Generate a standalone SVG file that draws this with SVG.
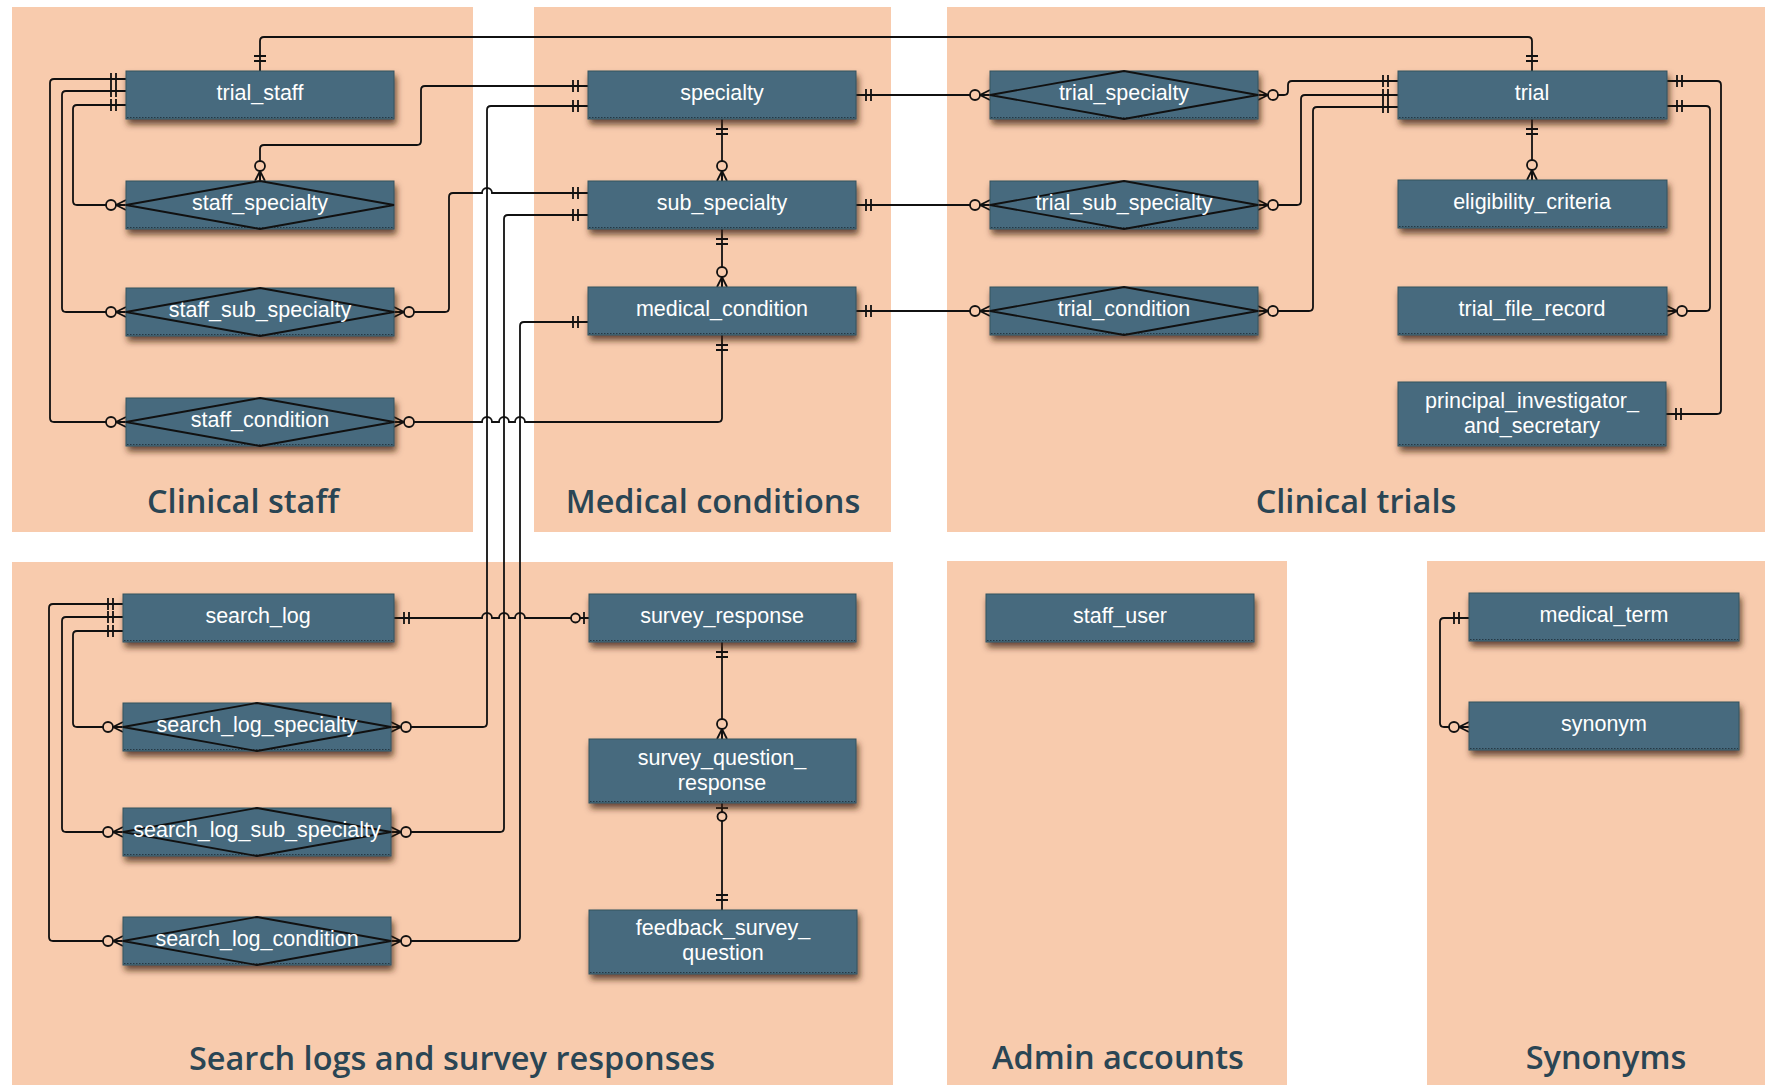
<svg xmlns="http://www.w3.org/2000/svg" xmlns:xlink="http://www.w3.org/1999/xlink" width="1765" height="1085" viewBox="0 0 1765 1085">
  <style>
    .panel { fill: #f8cbad; }
    .title { font-family: "Open Sans", "Liberation Sans", sans-serif; font-size: 32.5px; font-weight: 600; fill: #2a4554; text-anchor: middle; }
    .box { fill: #476a7e; stroke: #33525f; stroke-width: 1; filter: url(#shadow); }
    .hatch { stroke: #263844; stroke-width: 1; stroke-dasharray: 1.5 1.5; }
    .diamond { fill: none; stroke: #111; stroke-width: 1.8; stroke-linejoin: miter; }
    .label { font-family: "Liberation Sans", Arial, sans-serif; font-size: 21.5px; fill: #ffffff; text-anchor: middle; }
    .link { fill: none; stroke: #111; stroke-width: 1.8; }
    .mk { fill: none; stroke: #111; stroke-width: 1.8; }
    .mk circle { fill: #f8cbad; }
  </style>
  <defs>
    <filter id="shadow" x="-10%" y="-30%" width="120%" height="180%">
      <feGaussianBlur in="SourceAlpha" stdDeviation="3"/>
      <feOffset dx="2" dy="5" result="b"/>
      <feFlood flood-color="#3a1f0e" flood-opacity="0.75"/>
      <feComposite in2="b" operator="in"/>
      <feMerge><feMergeNode/><feMergeNode in="SourceGraphic"/></feMerge>
    </filter>
    <!-- cardinality ends: entity edge at origin, line runs along +x -->
    <g id="one" class="mk"><path d="M10,-6 V6 M15,-6 V6"/></g>
    <g id="zmany" class="mk"><path d="M0,-5 L10,0 L0,5 M0,0 H10"/><circle cx="15" cy="0" r="5"/></g>
    <g id="zone" class="mk"><path d="M5,-6 V6"/><circle cx="13.5" cy="0" r="4.5"/></g>
  </defs>

  <!-- subject areas -->
  <g id="areas">
    <rect class="panel" x="12" y="7" width="461" height="525"/>
    <rect class="panel" x="534" y="7" width="357" height="525"/>
    <rect class="panel" x="947" y="7" width="818" height="525"/>
    <rect class="panel" x="12" y="562" width="881" height="523"/>
    <rect class="panel" x="947" y="561" width="340" height="524"/>
    <rect class="panel" x="1427" y="561" width="338" height="524"/>
    <text class="title" x="243" y="513">Clinical staff</text>
    <text class="title" x="713" y="513">Medical conditions</text>
    <text class="title" x="1356" y="513">Clinical trials</text>
    <text class="title" x="452" y="1070">Search logs and survey responses</text>
    <text class="title" x="1118" y="1069">Admin accounts</text>
    <text class="title" x="1606" y="1069">Synonyms</text>
  </g>

  <!-- relationships -->
  <g id="connectors">
    <path class="link" d="M260,71 V41 Q260,37 264,37 H1528 Q1532,37 1532,41 V71"/>
    <path class="link" d="M126,79 H54 Q50,79 50,83 V418 Q50,422 54,422 H126"/>
    <path class="link" d="M126,91 H66 Q62,91 62,95 V308 Q62,312 66,312 H126"/>
    <path class="link" d="M126,105 H77 Q73,105 73,109 V201 Q73,205 77,205 H126"/>
    <path class="link" d="M260,181 V149 Q260,145 264,145 H417 Q421,145 421,141 V90 Q421,86 425,86 H588"/>
    <path class="link" d="M588,106 H491 Q487,106 487,110 V723 Q487,727 483,727 H391"/>
    <path class="link" d="M394,312 H445 Q449,312 449,308 V197 Q449,193 453,193 H482 A5,5 0 0 1 492,193 H588"/>
    <path class="link" d="M588,215 H508 Q504,215 504,219 V828 Q504,832 500,832 H391"/>
    <path class="link" d="M588,322 H524 Q520,322 520,326 V937 Q520,941 516,941 H391"/>
    <path class="link" d="M394,422 H482 A5,5 0 0 1 492,422 H499 A5,5 0 0 1 509,422 H515 A5,5 0 0 1 525,422 H718 Q722,422 722,418 V335"/>
    <path class="link" d="M722,119 V181"/>
    <path class="link" d="M722,229 V287"/>
    <path class="link" d="M856,95 H990"/>
    <path class="link" d="M856,205 H990"/>
    <path class="link" d="M856,311 H990"/>
    <path class="link" d="M1258,95 H1284 Q1288,95 1288,91 V85 Q1288,81 1292,81 H1398"/>
    <path class="link" d="M1258,205 H1297 Q1301,205 1301,201 V99 Q1301,95 1305,95 H1398"/>
    <path class="link" d="M1258,311 H1309 Q1313,311 1313,307 V111 Q1313,107 1317,107 H1398"/>
    <path class="link" d="M1532,119 V180"/>
    <path class="link" d="M1667,81 H1717 Q1721,81 1721,85 V410 Q1721,414 1717,414 H1666"/>
    <path class="link" d="M1667,106 H1706 Q1710,106 1710,110 V307 Q1710,311 1706,311 H1667"/>
    <path class="link" d="M123,604 H53 Q49,604 49,608 V937 Q49,941 53,941 H123"/>
    <path class="link" d="M123,617 H66 Q62,617 62,621 V828 Q62,832 66,832 H123"/>
    <path class="link" d="M123,631 H77 Q73,631 73,635 V723 Q73,727 77,727 H123"/>
    <path class="link" d="M394,618 H482 A5,5 0 0 1 492,618 H499 A5,5 0 0 1 509,618 H515 A5,5 0 0 1 525,618 H589"/>
    <path class="link" d="M722,642 V739"/>
    <path class="link" d="M722,803 V910"/>
    <path class="link" d="M1469,618 H1444 Q1440,618 1440,622 V723 Q1440,727 1444,727 H1469"/>

    <!-- cardinality ends -->
    <use href="#one" transform="translate(260,71) rotate(-90)"/>
    <use href="#one" transform="translate(1532,71) rotate(-90)"/>
    <use href="#one" transform="translate(126,79) rotate(180)"/>
    <use href="#one" transform="translate(126,91) rotate(180)"/>
    <use href="#one" transform="translate(126,105) rotate(180)"/>
    <use href="#zmany" transform="translate(126,422) rotate(180)"/>
    <use href="#zmany" transform="translate(126,312) rotate(180)"/>
    <use href="#zmany" transform="translate(126,205) rotate(180)"/>
    <use href="#zmany" transform="translate(260,181) rotate(-90)"/>
    <use href="#one" transform="translate(588,86) rotate(180)"/>
    <use href="#one" transform="translate(588,106) rotate(180)"/>
    <use href="#zmany" transform="translate(391,727)"/>
    <use href="#one" transform="translate(588,193) rotate(180)"/>
    <use href="#zmany" transform="translate(394,312)"/>
    <use href="#one" transform="translate(588,215) rotate(180)"/>
    <use href="#zmany" transform="translate(391,832)"/>
    <use href="#one" transform="translate(588,322) rotate(180)"/>
    <use href="#zmany" transform="translate(391,941)"/>
    <use href="#one" transform="translate(722,335) rotate(90)"/>
    <use href="#zmany" transform="translate(394,422)"/>
    <use href="#one" transform="translate(722,119) rotate(90)"/>
    <use href="#zmany" transform="translate(722,181) rotate(-90)"/>
    <use href="#one" transform="translate(722,229) rotate(90)"/>
    <use href="#zmany" transform="translate(722,287) rotate(-90)"/>
    <use href="#one" transform="translate(856,95)"/>
    <use href="#zmany" transform="translate(990,95) rotate(180)"/>
    <use href="#one" transform="translate(856,205)"/>
    <use href="#zmany" transform="translate(990,205) rotate(180)"/>
    <use href="#one" transform="translate(856,311)"/>
    <use href="#zmany" transform="translate(990,311) rotate(180)"/>
    <use href="#zmany" transform="translate(1258,95)"/>
    <use href="#zmany" transform="translate(1258,205)"/>
    <use href="#zmany" transform="translate(1258,311)"/>
    <use href="#one" transform="translate(1398,81) rotate(180)"/>
    <use href="#one" transform="translate(1398,95) rotate(180)"/>
    <use href="#one" transform="translate(1398,107) rotate(180)"/>
    <use href="#one" transform="translate(1532,119) rotate(90)"/>
    <use href="#zmany" transform="translate(1532,180) rotate(-90)"/>
    <use href="#one" transform="translate(1667,81)"/>
    <use href="#one" transform="translate(1666,414)"/>
    <use href="#one" transform="translate(1667,106)"/>
    <use href="#zmany" transform="translate(1667,311)"/>
    <use href="#one" transform="translate(123,604) rotate(180)"/>
    <use href="#one" transform="translate(123,617) rotate(180)"/>
    <use href="#one" transform="translate(123,631) rotate(180)"/>
    <use href="#zmany" transform="translate(123,941) rotate(180)"/>
    <use href="#zmany" transform="translate(123,832) rotate(180)"/>
    <use href="#zmany" transform="translate(123,727) rotate(180)"/>
    <use href="#one" transform="translate(394,618)"/>
    <use href="#zone" transform="translate(589,618) rotate(180)"/>
    <use href="#one" transform="translate(722,642) rotate(90)"/>
    <use href="#zmany" transform="translate(722,739) rotate(-90)"/>
    <use href="#zone" transform="translate(722,803) rotate(90)"/>
    <use href="#one" transform="translate(722,910) rotate(-90)"/>
    <use href="#one" transform="translate(1469,618) rotate(180)"/>
    <use href="#zmany" transform="translate(1469,727) rotate(180)"/>
  </g>

  <!-- Clinical staff -->
  <g id="trial_staff"><rect class="box" x="126" y="71" width="268" height="48"/><line class="hatch" x1="127" y1="117.5" x2="393" y2="117.5"/><text class="label" x="260" y="100">trial_staff</text></g>
  <g id="staff_specialty"><rect class="box" x="126" y="181" width="268" height="48"/><line class="hatch" x1="127" y1="227.5" x2="393" y2="227.5"/><polygon class="diamond" points="126,205 260,181 394,205 260,229"/><text class="label" x="260" y="210">staff_specialty</text></g>
  <g id="staff_sub_specialty"><rect class="box" x="126" y="288" width="268" height="48"/><line class="hatch" x1="127" y1="334.5" x2="393" y2="334.5"/><polygon class="diamond" points="126,312 260,288 394,312 260,336"/><text class="label" x="260" y="317">staff_sub_specialty</text></g>
  <g id="staff_condition"><rect class="box" x="126" y="398" width="268" height="48"/><line class="hatch" x1="127" y1="444.5" x2="393" y2="444.5"/><polygon class="diamond" points="126,422 260,398 394,422 260,446"/><text class="label" x="260" y="427">staff_condition</text></g>

  <!-- Medical conditions -->
  <g id="specialty"><rect class="box" x="588" y="71" width="268" height="48"/><line class="hatch" x1="589" y1="117.5" x2="855" y2="117.5"/><text class="label" x="722" y="100">specialty</text></g>
  <g id="sub_specialty"><rect class="box" x="588" y="181" width="268" height="48"/><line class="hatch" x1="589" y1="227.5" x2="855" y2="227.5"/><text class="label" x="722" y="210">sub_specialty</text></g>
  <g id="medical_condition"><rect class="box" x="588" y="287" width="268" height="48"/><line class="hatch" x1="589" y1="333.5" x2="855" y2="333.5"/><text class="label" x="722" y="316">medical_condition</text></g>

  <!-- Clinical trials -->
  <g id="trial_specialty"><rect class="box" x="990" y="71" width="268" height="48"/><line class="hatch" x1="991" y1="117.5" x2="1257" y2="117.5"/><polygon class="diamond" points="990,95 1124,71 1258,95 1124,119"/><text class="label" x="1124" y="100">trial_specialty</text></g>
  <g id="trial_sub_specialty"><rect class="box" x="990" y="181" width="268" height="48"/><line class="hatch" x1="991" y1="227.5" x2="1257" y2="227.5"/><polygon class="diamond" points="990,205 1124,181 1258,205 1124,229"/><text class="label" x="1124" y="210">trial_sub_specialty</text></g>
  <g id="trial_condition"><rect class="box" x="990" y="287" width="268" height="48"/><line class="hatch" x1="991" y1="333.5" x2="1257" y2="333.5"/><polygon class="diamond" points="990,311 1124,287 1258,311 1124,335"/><text class="label" x="1124" y="316">trial_condition</text></g>
  <g id="trial"><rect class="box" x="1398" y="71" width="269" height="48"/><line class="hatch" x1="1399" y1="117.5" x2="1666" y2="117.5"/><text class="label" x="1532" y="100">trial</text></g>
  <g id="eligibility_criteria"><rect class="box" x="1398" y="180" width="269" height="48"/><line class="hatch" x1="1399" y1="226.5" x2="1666" y2="226.5"/><text class="label" x="1532" y="209">eligibility_criteria</text></g>
  <g id="trial_file_record"><rect class="box" x="1398" y="287" width="269" height="48"/><line class="hatch" x1="1399" y1="333.5" x2="1666" y2="333.5"/><text class="label" x="1532" y="316">trial_file_record</text></g>
  <g id="principal_investigator_and_secretary"><rect class="box" x="1398" y="382" width="268" height="64"/><line class="hatch" x1="1399" y1="444.5" x2="1665" y2="444.5"/><text class="label" x="1532" y="408">principal_investigator_</text><text class="label" x="1532" y="433">and_secretary</text></g>

  <!-- Search logs and survey responses -->
  <g id="search_log"><rect class="box" x="123" y="594" width="271" height="48"/><line class="hatch" x1="124" y1="640.5" x2="393" y2="640.5"/><text class="label" x="258" y="623">search_log</text></g>
  <g id="search_log_specialty"><rect class="box" x="123" y="703" width="268" height="48"/><line class="hatch" x1="124" y1="749.5" x2="390" y2="749.5"/><polygon class="diamond" points="123,727 257,703 391,727 257,751"/><text class="label" x="257" y="732">search_log_specialty</text></g>
  <g id="search_log_sub_specialty"><rect class="box" x="123" y="808" width="268" height="48"/><line class="hatch" x1="124" y1="854.5" x2="390" y2="854.5"/><polygon class="diamond" points="123,832 257,808 391,832 257,856"/><text class="label" x="257" y="837">search_log_sub_specialty</text></g>
  <g id="search_log_condition"><rect class="box" x="123" y="917" width="268" height="48"/><line class="hatch" x1="124" y1="963.5" x2="390" y2="963.5"/><polygon class="diamond" points="123,941 257,917 391,941 257,965"/><text class="label" x="257" y="946">search_log_condition</text></g>
  <g id="survey_response"><rect class="box" x="589" y="594" width="267" height="48"/><line class="hatch" x1="590" y1="640.5" x2="855" y2="640.5"/><text class="label" x="722" y="623">survey_response</text></g>
  <g id="survey_question_response"><rect class="box" x="589" y="739" width="267" height="64"/><line class="hatch" x1="590" y1="801.5" x2="855" y2="801.5"/><text class="label" x="722" y="765">survey_question_</text><text class="label" x="722" y="790">response</text></g>
  <g id="feedback_survey_question"><rect class="box" x="589" y="910" width="268" height="64"/><line class="hatch" x1="590" y1="972.5" x2="856" y2="972.5"/><text class="label" x="723" y="935">feedback_survey_</text><text class="label" x="723" y="960">question</text></g>

  <!-- Admin accounts -->
  <g id="staff_user"><rect class="box" x="986" y="594" width="268" height="48"/><line class="hatch" x1="987" y1="640.5" x2="1253" y2="640.5"/><text class="label" x="1120" y="623">staff_user</text></g>

  <!-- Synonyms -->
  <g id="medical_term"><rect class="box" x="1469" y="593" width="270" height="48"/><line class="hatch" x1="1470" y1="639.5" x2="1738" y2="639.5"/><text class="label" x="1604" y="622">medical_term</text></g>
  <g id="synonym"><rect class="box" x="1469" y="702" width="270" height="48"/><line class="hatch" x1="1470" y1="748.5" x2="1738" y2="748.5"/><text class="label" x="1604" y="731">synonym</text></g>
</svg>
